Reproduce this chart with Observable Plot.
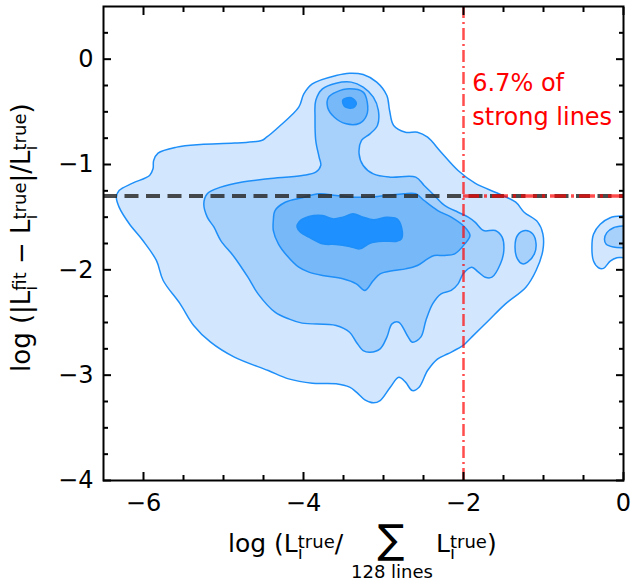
<!DOCTYPE html>
<html>
<head>
<meta charset="utf-8">
<script src="https://cdn.jsdelivr.net/npm/d3@7"></script>
<script src="https://cdn.jsdelivr.net/npm/@observablehq/plot@0.6"></script>
<style>
  html, body { margin: 0; padding: 0; background: white; }
  svg text { white-space: pre; }
</style>
</head>
<body>
<div id="chart"></div>
<script>
// ---- Data ----
const xMajor = [-6, -4, -2, 0];
const xMinor = [-5.5, -5, -4.5, -3.5, -3, -2.5, -1.5, -1, -0.5];
const yMajor = [-4, -3, -2, -1, 0];
const yMinor = [-3.75, -3.5, -3.25, -2.75, -2.5, -2.25, -1.75, -1.5, -1.25, -0.75, -0.5, -0.25, 0.25];
const yThreshold = [-1.3];
const xThreshold = [-2];
const noteText = ["6.7% of\nstrong lines"];

// contour level 1 (outermost)
const level1Main = [[-6.339,-1.310],[-6.305,-1.247],[-6.136,-1.177],[-5.924,-1.104],[-5.881,-1.041],[-5.873,-0.962],[-5.818,-0.892],[-5.585,-0.835],[-5.288,-0.810],[-4.864,-0.797],[-4.525,-0.772],[-4.462,-0.741],[-4.314,-0.646],[-4.059,-0.456],[-3.996,-0.329],[-3.890,-0.234],[-3.593,-0.155],[-3.424,-0.133],[-3.254,-0.146],[-3.085,-0.218],[-2.958,-0.345],[-2.924,-0.487],[-2.873,-0.630],[-2.725,-0.693],[-2.576,-0.693],[-2.449,-0.741],[-2.280,-0.883],[-2.068,-1.057],[-1.856,-1.177],[-1.559,-1.278],[-1.347,-1.358],[-1.242,-1.453],[-1.072,-1.547],[-1.008,-1.658],[-1.008,-1.816],[-1.093,-2.006],[-1.220,-2.165],[-1.475,-2.323],[-1.686,-2.481],[-1.898,-2.639],[-2.004,-2.718],[-2.195,-2.797],[-2.322,-2.845],[-2.449,-2.956],[-2.555,-3.114],[-2.640,-3.146],[-2.725,-3.066],[-2.809,-3.019],[-2.915,-3.114],[-3.042,-3.241],[-3.127,-3.263],[-3.233,-3.234],[-3.339,-3.161],[-3.424,-3.114],[-3.593,-3.082],[-3.890,-3.076],[-4.186,-3.035],[-4.441,-2.956],[-4.864,-2.829],[-5.161,-2.687],[-5.373,-2.528],[-5.542,-2.323],[-5.754,-2.101],[-5.839,-1.911],[-6.008,-1.722],[-6.178,-1.563],[-6.305,-1.405]];
const level1Right = [[0.05,-1.489],[0,-1.489],[-0.166,-1.505],[-0.291,-1.568],[-0.375,-1.663],[-0.395,-1.790],[-0.375,-1.917],[-0.313,-1.980],[-0.250,-1.986],[-0.166,-1.917],[-0.083,-1.885],[0,-1.885],[0.05,-1.885]];
// contour level 2
const level2Main = [[-5.246,-1.373],[-5.203,-1.278],[-5.034,-1.215],[-4.780,-1.168],[-4.441,-1.136],[-4.017,-1.104],[-3.847,-1.073],[-3.784,-1.009],[-3.805,-0.930],[-3.847,-0.772],[-3.856,-0.551],[-3.847,-0.392],[-3.763,-0.282],[-3.593,-0.228],[-3.403,-0.218],[-3.254,-0.266],[-3.127,-0.361],[-3.064,-0.487],[-3.076,-0.630],[-3.169,-0.709],[-3.275,-0.772],[-3.305,-0.899],[-3.254,-1.009],[-3.127,-1.089],[-2.915,-1.120],[-2.597,-1.120],[-2.492,-1.199],[-2.364,-1.294],[-2.237,-1.389],[-2.068,-1.453],[-1.941,-1.500],[-1.856,-1.547],[-1.750,-1.627],[-1.602,-1.627],[-1.517,-1.690],[-1.496,-1.816],[-1.538,-1.943],[-1.644,-2.070],[-1.729,-2.070],[-1.814,-2.022],[-1.898,-1.975],[-2.004,-2.038],[-2.068,-2.133],[-2.153,-2.196],[-2.280,-2.228],[-2.386,-2.323],[-2.470,-2.481],[-2.534,-2.639],[-2.640,-2.687],[-2.703,-2.623],[-2.809,-2.497],[-2.894,-2.513],[-2.958,-2.639],[-3.042,-2.750],[-3.169,-2.782],[-3.254,-2.766],[-3.339,-2.687],[-3.424,-2.592],[-3.593,-2.528],[-4.017,-2.506],[-4.186,-2.465],[-4.356,-2.402],[-4.568,-2.228],[-4.695,-2.070],[-4.864,-1.880],[-5.034,-1.722],[-5.119,-1.595],[-5.203,-1.500]];
const level2Island = [[-1.229,-1.627],[-1.136,-1.658],[-1.093,-1.753],[-1.114,-1.848],[-1.199,-1.927],[-1.263,-1.943],[-1.326,-1.896],[-1.356,-1.785],[-1.326,-1.674]];
const level2Right = [[0.05,-1.584],[0,-1.584],[-0.125,-1.600],[-0.208,-1.647],[-0.238,-1.710],[-0.216,-1.758],[-0.125,-1.784],[0,-1.790],[0.05,-1.790]];
// contour level 3
const level3Main = [[-4.377,-1.532],[-4.356,-1.437],[-4.229,-1.358],[-4.017,-1.316],[-3.805,-1.278],[-3.593,-1.294],[-3.381,-1.310],[-3.169,-1.310],[-2.958,-1.294],[-2.746,-1.278],[-2.597,-1.278],[-2.492,-1.342],[-2.322,-1.437],[-2.153,-1.500],[-1.983,-1.595],[-1.919,-1.674],[-1.983,-1.753],[-2.110,-1.848],[-2.237,-1.864],[-2.364,-1.864],[-2.449,-1.896],[-2.576,-1.959],[-2.725,-1.991],[-2.873,-2.006],[-3.042,-2.038],[-3.127,-2.101],[-3.233,-2.196],[-3.339,-2.133],[-3.508,-2.085],[-3.763,-2.054],[-3.932,-2.022],[-4.059,-1.975],[-4.208,-1.864],[-4.314,-1.753],[-4.377,-1.627]];
const level3Top = [[-3.593,-0.313],[-3.424,-0.282],[-3.254,-0.313],[-3.203,-0.408],[-3.212,-0.535],[-3.297,-0.608],[-3.466,-0.614],[-3.614,-0.551],[-3.699,-0.456],[-3.686,-0.361]];
// contour level 4 (innermost)
const level4Main = [[-4.059,-1.547],[-3.932,-1.494],[-3.763,-1.484],[-3.636,-1.516],[-3.508,-1.500],[-3.381,-1.468],[-3.254,-1.500],[-3.127,-1.525],[-2.958,-1.500],[-2.831,-1.516],[-2.775,-1.595],[-2.775,-1.706],[-2.831,-1.728],[-3.000,-1.728],[-3.169,-1.747],[-3.297,-1.801],[-3.424,-1.778],[-3.593,-1.759],[-3.763,-1.753],[-3.932,-1.690],[-4.038,-1.642],[-4.081,-1.595]];
const level4Top = [[-3.508,-0.386],[-3.403,-0.367],[-3.339,-0.418],[-3.381,-0.462],[-3.487,-0.449]];

// ---- Styles ----
const levelColors = ["#d2e7fd", "#a7d0fb", "#77b8f9", "#1e90ff"];
const edgeColor = "#1e8ff8";
const polygons = [
  [level1Main, 0], [level1Right, 0],
  [level2Main, 1], [level2Island, 1], [level2Right, 1],
  [level3Main, 2], [level3Top, 2],
  [level4Main, 3], [level4Top, 3]
];
const fmt = d => d < 0 ? "\u2212" + Math.abs(d) : String(d);
const noTxt = () => "";
const redSegment = [{y: yThreshold[0], x1: xThreshold[0], x2: xMajor[xMajor.length - 1]}];
const note = [{x: xThreshold[0] + 0.11, y: -0.075, t: noteText[0]}];

const plot = Plot.plot({
  width: 632,
  height: 583,
  marginLeft: 103,
  marginRight: 9,
  marginTop: 6,
  marginBottom: 103,
  x: {domain: [-6.5, 0], label: null},
  y: {domain: [-4, 0.5], label: null},
  style: {fontFamily: "DejaVu Sans", fontSize: "24px", color: "black", background: "white"},
  marks: [
    ...polygons.map(([pts, k]) => Plot.line(pts, {
      x: d => d[0], y: d => d[1],
      fill: levelColors[k], stroke: edgeColor, strokeWidth: 1.5,
      curve: "catmull-rom-closed", clip: true
    })),
    Plot.ruleY(yThreshold, {stroke: "#2b2b2b", strokeOpacity: 0.85, strokeWidth: 4, strokeDasharray: "14,7.5"}),
    Plot.ruleX(xThreshold, {stroke: "red", strokeOpacity: 0.7, strokeWidth: 2.5, strokeDasharray: "12,4,2,4"}),
    Plot.ruleY(redSegment, {y: "y", x1: "x1", x2: "x2", stroke: "red", strokeOpacity: 0.7, strokeWidth: 3.5, strokeDasharray: "16,5,3,5"}),
    Plot.text(note, {x: "x", y: "y", text: "t", fill: "red", fontSize: 24, textAnchor: "start", lineAnchor: "top", lineHeight: 1.42}),
    // inward ticks on all four sides
    Plot.axisX(xMajor, {anchor: "bottom", tickSize: -8, strokeWidth: 2, tickFormat: noTxt, label: null}),
    Plot.axisX(xMinor, {anchor: "bottom", tickSize: -5, strokeWidth: 2, tickFormat: noTxt, label: null}),
    Plot.axisX(xMajor, {anchor: "top", tickSize: -8, strokeWidth: 2, tickFormat: noTxt, label: null}),
    Plot.axisX(xMinor, {anchor: "top", tickSize: -5, strokeWidth: 2, tickFormat: noTxt, label: null}),
    Plot.axisY(yMajor, {anchor: "left", tickSize: -8, strokeWidth: 2, tickFormat: noTxt, label: null}),
    Plot.axisY(yMinor, {anchor: "left", tickSize: -5, strokeWidth: 2, tickFormat: noTxt, label: null}),
    Plot.axisY(yMajor, {anchor: "right", tickSize: -8, strokeWidth: 2, tickFormat: noTxt, label: null}),
    Plot.axisY(yMinor, {anchor: "right", tickSize: -5, strokeWidth: 2, tickFormat: noTxt, label: null}),
    // tick labels
    Plot.axisX(xMajor, {anchor: "bottom", tickSize: 0, tickPadding: 13, tickFormat: fmt, fontSize: 24, label: null}),
    Plot.axisY(yMajor, {anchor: "left", tickSize: 0, tickPadding: 10, tickFormat: fmt, fontSize: 24, label: null}),
    Plot.frame({stroke: "black", strokeWidth: 2})
  ]
});

document.getElementById("chart").appendChild(plot);

// ---- Axis titles (math-style labels with sub/superscripts) ----
const svg = d3.select(plot);
const SCRIPT = 18, IW = 5;
function addLabelPieces(text, pieces, main) {
  pieces.forEach(p => {
    const t = text.append("tspan").text(p.s).attr("font-size", p.f || main);
    if (p.dx) t.attr("dx", p.dx);
    if (p.dy) t.attr("dy", p.dy);
  });
}
function subsup(sup) {
  return [
    {s: "i", f: SCRIPT, dy: 7},
    {s: sup, f: SCRIPT, dx: -IW, dy: -11}
  ];
}
const g = svg.append("g").attr("font-family", "DejaVu Sans").attr("fill", "black").attr("text-anchor", "start");
// x title
const xt1 = g.append("text").attr("x", 228).attr("y", 552).attr("text-anchor", "start");
addLabelPieces(xt1, [{s: "log (L"}, ...subsup("true"), {s: "/", dy: 4}], 25);
g.append("text").attr("x", 391).attr("y", 553).attr("text-anchor", "middle").attr("font-size", 40).text("\u2211");
g.append("text").attr("x", 392).attr("y", 578).attr("text-anchor", "middle").attr("font-size", 18).text("128 lines");
const xt2 = g.append("text").attr("x", 436).attr("y", 552).attr("text-anchor", "start");
addLabelPieces(xt2, [{s: "L"}, ...subsup("true"), {s: ")", dy: 4}], 25);
// y title
const yg = g.append("g").attr("transform", "translate(30,372) rotate(-90)");
const yt = yg.append("text").attr("x", 0).attr("y", 0).attr("text-anchor", "start");
addLabelPieces(yt, [
  {s: "log (|L"}, ...subsup("fit"),
  {s: " \u2212 L", dy: 4}, ...subsup("true"),
  {s: "|/L", dy: 4}, ...subsup("true"),
  {s: ")", dy: 4}
], 26);
</script>
</body>
</html>
